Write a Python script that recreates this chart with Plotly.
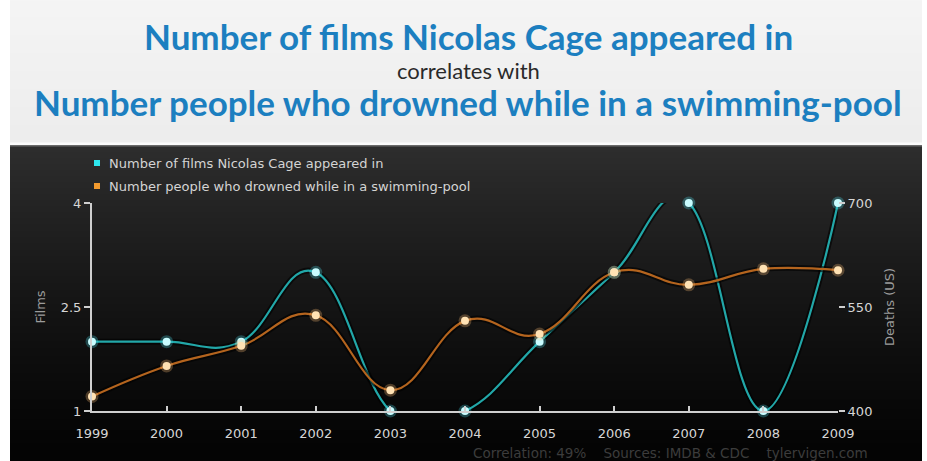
import base64
import struct
import zlib

import plotly.graph_objects as go

# Yearly series
years = [1999, 2000, 2001, 2002, 2003, 2004, 2005, 2006, 2007, 2008, 2009]
cage_films = [2, 2, 2, 3, 1, 1, 2, 3, 4, 1, 4]
pool_drownings = [421, 465, 494, 538, 430, 530, 511, 600, 582, 605, 603]

films_ticks = [1, 2.5, 4]
films_ticktext = ["1", "2.5", "4"]
deaths_ticks = [400, 550, 700]

title_top = "Number of films Nicolas Cage appeared in"
title_mid = "correlates with"
title_bottom = "Number people who drowned while in a swimming-pool"
series_names = ["Number of films Nicolas Cage appeared in",
                "Number people who drowned while in a swimming-pool"]
footer = "Correlation: 49%    Sources: IMDB &amp; CDC    tylervigen.com"

W, H = 927, 461
L, R, T, B = 92, 838, 203, 411  # plot area in pixels


def px(x):
    return (x - L) / (R - L)


def py(y):
    return (B - y) / (B - T)


def gradient_png(levels, width=4):
    """Grayscale PNG with one row per level (vertical gradient)."""
    raw = b"".join(b"\x00" + bytes([v]) * width for v in levels)

    def chunk(tag, data):
        c = struct.pack(">I", len(data)) + tag + data
        return c + struct.pack(">I", zlib.crc32(tag + data) & 0xFFFFFFFF)

    png = b"\x89PNG\r\n\x1a\n"
    png += chunk(b"IHDR", struct.pack(">IIBBBBB", width, len(levels), 8, 0, 0, 0, 0))
    png += chunk(b"IDAT", zlib.compress(raw, 9))
    png += chunk(b"IEND", b"")
    return "data:image/png;base64," + base64.b64encode(png).decode()


def spline_path(xs, ys, smoothing=1.5):
    """Cubic Bezier path through the points, control points aligned per point."""
    n = len(xs)
    left, right = [None] * n, [None] * n
    denom = smoothing + 1
    for i in range(1, n - 1):
        lx = (smoothing * xs[i] + xs[i - 1]) / denom
        ly = (smoothing * ys[i] + ys[i - 1]) / denom
        rx = (smoothing * xs[i] + xs[i + 1]) / denom
        ry = (smoothing * ys[i] + ys[i + 1]) / denom
        corr = 0.0
        if rx != lx:
            corr = (ry - ly) * (rx - xs[i]) / (rx - lx) + ys[i] - ry
        left[i] = (lx, ly + corr)
        right[i] = (rx, ry + corr)
    d = f"M {xs[0]},{ys[0]}"
    for i in range(1, n):
        c1 = right[i - 1] or (xs[i - 1], ys[i - 1])
        c2 = left[i] or (xs[i], ys[i])
        d += f" C {c1[0]:.4f},{c1[1]:.4f} {c2[0]:.4f},{c2[1]:.4f} {xs[i]},{ys[i]}"
    return d


CYAN_LINE = "#22a7a8"
CYAN_DOT = "#c9fcff"
ORANGE_LINE = "#b4641e"
ORANGE_DOT = "#ffe2b4"

fig = go.Figure()

# point markers with a soft halo
fig.add_trace(go.Scatter(x=years, y=cage_films, mode="markers", yaxis="y", cliponaxis=False,
                         marker=dict(color="rgba(80,225,240,0.28)", size=13),
                         hoverinfo="skip", showlegend=False))
fig.add_trace(go.Scatter(x=years, y=cage_films, mode="markers", yaxis="y", cliponaxis=False,
                         marker=dict(color=CYAN_DOT, size=8),
                         showlegend=False, name=series_names[0]))
fig.add_trace(go.Scatter(x=years, y=pool_drownings, mode="markers", yaxis="y2", cliponaxis=False,
                         marker=dict(color="rgba(255,190,120,0.28)", size=13),
                         hoverinfo="skip", showlegend=False))
fig.add_trace(go.Scatter(x=years, y=pool_drownings, mode="markers", yaxis="y2", cliponaxis=False,
                         marker=dict(color=ORANGE_DOT, size=8),
                         showlegend=False, name=series_names[1]))

shapes = []
# smoothed series lines (clipped to the plot area) with dark shadows
for yref, vals, col in [("y", cage_films, CYAN_LINE), ("y2", pool_drownings, ORANGE_LINE)]:
    d = spline_path(years, vals)
    shapes.append(dict(type="path", xref="x", yref=yref, path=d, layer="below",
                       fillcolor="rgba(0,0,0,0)", line=dict(color="rgba(0,0,0,0.6)", width=6)))
    shapes.append(dict(type="path", xref="x", yref=yref, path=d, layer="below",
                       fillcolor="rgba(0,0,0,0)", line=dict(color=col, width=2.2)))

shapes.append(dict(type="rect", xref="paper", yref="paper", layer="below",
                   x0=px(10), x1=px(922), y0=py(145), y1=py(142.5),
                   fillcolor="#fbfbfb", line=dict(width=0)))
shapes.append(dict(type="rect", xref="paper", yref="paper", layer="below",
                   x0=px(10), x1=px(922), y0=py(146.5), y1=py(145),
                   fillcolor="#6a6a6a", line=dict(width=0)))

# legend swatches
for i, c in enumerate(["#2ee6ee", "#f29a2e"]):
    yc = 163 + 23 * i
    shapes.append(dict(type="rect", xref="paper", yref="paper", layer="above",
                       x0=px(94), x1=px(100), y0=py(yc + 3), y1=py(yc - 3),
                       fillcolor=c, line=dict(width=0)))

# background bands
title_levels = [int(245 - 8 * k / 143) for k in range(144)]
dark_levels = [int(4 + 42 * (1 - k / 314) ** 1.3) for k in range(315)]
images = [
    dict(source=gradient_png(title_levels), xref="paper", yref="paper",
         x=px(10), y=py(0), sizex=px(922) - px(10), sizey=py(0) - py(143),
         sizing="stretch", xanchor="left", yanchor="top", layer="below"),
    dict(source=gradient_png(dark_levels), xref="paper", yref="paper",
         x=px(10), y=py(146), sizex=px(922) - px(10), sizey=py(146) - py(461),
         sizing="stretch", xanchor="left", yanchor="top", layer="below"),
]

TITLE_FONT = "Lato"
TEXT_FONT = "DejaVu Sans"
annotations = [
    dict(text=f"<b>{title_top}</b>", x=px(468), y=py(36), xref="paper", yref="paper",
         xanchor="center", yanchor="middle", showarrow=False, height=42,
         font=dict(family=TITLE_FONT, size=35, color="#1c7fc0")),
    dict(text=title_mid, x=px(468), y=py(70), xref="paper", yref="paper",
         xanchor="center", yanchor="middle", showarrow=False, height=22,
         font=dict(family=TITLE_FONT, size=22, color="#2a2a2a")),
    dict(text=f"<b>{title_bottom}</b>", x=px(468), y=py(102), xref="paper", yref="paper",
         xanchor="center", yanchor="middle", showarrow=False, height=40,
         font=dict(family=TITLE_FONT, size=35, color="#1c7fc0")),
    dict(text=footer, x=px(870), y=py(453), xref="paper", yref="paper",
         xanchor="right", yanchor="middle", showarrow=False,
         font=dict(family=TEXT_FONT, size=13.5, color="#3c3c3c")),
]
for i, name in enumerate(series_names):
    annotations.append(dict(text=name, x=px(107), y=py(163 + 23 * i), xref="paper", yref="paper",
                            xanchor="left", yanchor="middle", showarrow=False,
                            font=dict(family=TEXT_FONT, size=13, color="#d4d4d4")))

axis_font = dict(family=TEXT_FONT, size=13, color="#d6d6d6")
title_font = dict(family=TEXT_FONT, size=13, color="#9c9c9c")

fig.update_layout(
    width=W, height=H,
    margin=dict(l=L, r=W - R, t=T, b=H - B),
    paper_bgcolor="white", plot_bgcolor="rgba(0,0,0,0)",
    showlegend=False,
    shapes=shapes, annotations=annotations, images=images,
    xaxis=dict(range=[1999, 2009], tickvals=years, ticks="inside", ticklen=5, tickwidth=1.5,
               tickcolor="#cfcfcf", showline=True, linecolor="#cfcfcf", linewidth=2,
               showgrid=False, zeroline=False, tickfont=axis_font, ticklabelstandoff=9),
    yaxis=dict(range=[1, 4], tickvals=films_ticks, ticktext=films_ticktext, ticks="outside",
               ticklen=6, tickwidth=1.5, tickcolor="#cfcfcf", showline=True, linecolor="#cfcfcf",
               linewidth=2, showgrid=False, zeroline=False, tickfont=axis_font,
               title=dict(text="Films", font=title_font, standoff=12)),
    yaxis2=dict(range=[400, 700], tickvals=deaths_ticks, overlaying="y", side="right",
                ticks="outside", ticklen=6, tickwidth=1.5, tickcolor="#cfcfcf", showline=False,
                showgrid=False, zeroline=False, tickfont=axis_font,
                title=dict(text="Deaths (US)", font=title_font, standoff=13)),
)

fig.write_html("out.html")
